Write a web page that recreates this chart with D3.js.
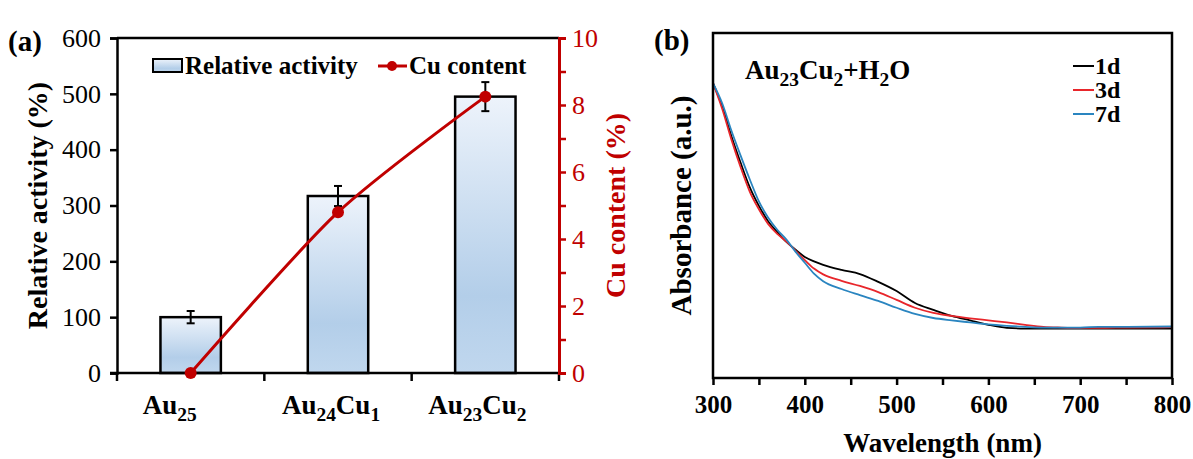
<!DOCTYPE html>
<html>
<head>
<meta charset="utf-8">
<script src="https://cdn.jsdelivr.net/npm/d3@7"></script>
<style>
  html,body{margin:0;padding:0;background:#fff;}
  svg{display:block;font-family:"Liberation Serif","Times New Roman",serif;}
</style>
</head>
<body>
<div id="chart"></div>
<script>
/* Panel (a): relative activity bars + Cu content line (dual axis).
   Panel (b): UV-vis spectra of Au23Cu2 in water after 1, 3, 7 days. */

// ---- panel (a) data ----
var categories = [
  [{t:"Au"},{t:"25",sub:true}],
  [{t:"Au"},{t:"24",sub:true},{t:"Cu"},{t:"1",sub:true}],
  [{t:"Au"},{t:"23",sub:true},{t:"Cu"},{t:"2",sub:true}]
];
var activity = [100, 317, 495];
var activityErr = [11, 18, 26];
var cuContent = [0, 4.8, 8.25];
var leftTicks = [0, 100, 200, 300, 400, 500, 600];
var rightTicks = [0, 2, 4, 6, 8, 10];

// ---- panel (b) data ----
var wavelength = [300,310,320,330,340,350,360,370,380,390,400,410,420,440,460,480,500,520,540,560,580,600,620,640,660,680,700,720,750,800];
var abs1d = [0.853,0.785,0.698,0.620,0.548,0.493,0.448,0.416,0.387,0.364,0.343,0.330,0.320,0.305,0.293,0.270,0.243,0.208,0.188,0.170,0.157,0.144,0.135,0.133,0.133,0.133,0.133,0.133,0.133,0.133];
var abs3d = [0.853,0.778,0.688,0.607,0.535,0.483,0.440,0.411,0.388,0.361,0.334,0.309,0.292,0.273,0.258,0.240,0.217,0.194,0.179,0.170,0.163,0.157,0.151,0.144,0.138,0.136,0.135,0.135,0.136,0.137];
var abs7d = [0.853,0.794,0.714,0.641,0.571,0.506,0.459,0.423,0.394,0.358,0.326,0.294,0.272,0.249,0.231,0.214,0.194,0.176,0.164,0.157,0.151,0.145,0.141,0.138,0.136,0.136,0.136,0.138,0.138,0.139];
var seriesNames = ["1d","3d","7d"];
var seriesColors = ["#000000","#e8262b","#2a85c0"];
var xTicksB = [300,400,500,600,700,800];

var W=1193,H=459;
var svg=d3.select("#chart").append("svg").attr("width",W).attr("height",H);
var defs=svg.append("defs");
var grad=defs.append("linearGradient").attr("id","barGrad").attr("x1",0).attr("y1",0).attr("x2",0).attr("y2",1);
grad.append("stop").attr("offset","0%").attr("stop-color","#edf3fb");
grad.append("stop").attr("offset","72%").attr("stop-color","#b3cee9");
grad.append("stop").attr("offset","100%").attr("stop-color","#c0d7ee");

var RED="#c00000";

function richText(sel, parts, size){
  parts.forEach(function(p,i){
    var prev=i>0?parts[i-1]:null;
    var ts=sel.append("tspan").text(p.t);
    if(p.sub){ ts.attr("font-size",size*0.72).attr("dy",size*0.25); }
    else if(prev && prev.sub){ ts.attr("dy",-size*0.25); }
  });
}

// ================= panel (a) =================
var aL=117,aR=559,aT=38,aB=373;
var xa=d3.scaleBand().domain(d3.range(categories.length)).range([aL,aR]).padding(0);
var ya=d3.scaleLinear().domain([0,600]).range([aB,aT]);
var yc=d3.scaleLinear().domain([0,10]).range([aB,aT]);
var barW=xa.bandwidth()*0.41;

var ga=svg.append("g");
ga.append("line").attr("x1",aL).attr("x2",aR).attr("y1",aT).attr("y2",aT).attr("stroke","#000").attr("stroke-width",2.5);

// bars
ga.selectAll("rect.bar").data(activity).enter().append("rect").attr("class","bar")
  .attr("x",function(d,i){return xa(i)+xa.bandwidth()/2-barW/2;})
  .attr("y",function(d){return ya(d);})
  .attr("width",barW).attr("height",function(d){return aB-ya(d);})
  .attr("fill","url(#barGrad)").attr("stroke","#000").attr("stroke-width",2.5);

// error bars
activity.forEach(function(v,i){
  var cx=xa(i)+xa.bandwidth()/2, e=activityErr[i];
  ga.append("line").attr("x1",cx).attr("x2",cx).attr("y1",ya(v-e)).attr("y2",ya(v+e)).attr("stroke","#000").attr("stroke-width",2);
  [v-e,v+e].forEach(function(y){
    ga.append("line").attr("x1",cx-4).attr("x2",cx+4).attr("y1",ya(y)).attr("y2",ya(y)).attr("stroke","#000").attr("stroke-width",2);
  });
});

// left axis
var axL=ga.append("g").attr("transform","translate("+aL+",0)")
  .call(d3.axisLeft(ya).tickValues(leftTicks).tickSize(7).tickPadding(9).tickFormat(d3.format("d")));
axL.select(".domain").attr("stroke","#000").attr("stroke-width",2.5);
axL.selectAll(".tick line").attr("stroke","#000").attr("stroke-width",2.5);
axL.selectAll("text").attr("font-size",26).attr("fill","#000").attr("font-family","Liberation Serif");

// bottom axis (category separators)
ga.append("line").attr("x1",aL-7).attr("x2",aR).attr("y1",aB).attr("y2",aB).attr("stroke","#000").attr("stroke-width",2.5);
d3.range(categories.length+1).forEach(function(i){
  var x=i<categories.length?xa(i):aR;
  ga.append("line").attr("x1",x).attr("x2",x).attr("y1",aB).attr("y2",aB+8).attr("stroke","#000").attr("stroke-width",2.5);
});
var labOff=[-21,-7,-8];
categories.forEach(function(c,i){
  var t=ga.append("text").attr("x",xa(i)+xa.bandwidth()/2+labOff[i]).attr("y",aB+41)
    .attr("text-anchor","middle").attr("font-size",27).attr("font-weight","bold");
  richText(t,c,27);
});

// right axis
var axR=ga.append("g").attr("transform","translate("+aR+",0)")
  .call(d3.axisRight(yc).ticks(10).tickSize(7).tickPadding(6).tickFormat(function(d){return rightTicks.indexOf(d)>=0?d:"";}));
axR.select(".domain").attr("stroke",RED).attr("stroke-width",3);
axR.selectAll(".tick line").attr("stroke",RED).attr("stroke-width",2.5);
axR.selectAll("text").attr("font-size",26).attr("fill",RED).attr("font-family","Liberation Serif");

// Cu line
var cuLine=d3.line().x(function(d,i){return xa(i)+xa.bandwidth()/2;}).y(function(d){return yc(d);}).curve(d3.curveCardinal.tension(0.2));
ga.append("path").datum(cuContent).attr("d",cuLine).attr("fill","none").attr("stroke",RED).attr("stroke-width",3);
ga.selectAll("circle.cu").data(cuContent).enter().append("circle").attr("class","cu")
  .attr("cx",function(d,i){return xa(i)+xa.bandwidth()/2;}).attr("cy",function(d){return yc(d);})
  .attr("r",6).attr("fill",RED);

// axis titles
ga.append("text").attr("transform","translate(47,"+((aT+aB)/2)+") rotate(-90)").attr("text-anchor","middle")
  .attr("font-size",28).attr("font-weight","bold").text("Relative activity (%)");
ga.append("text").attr("transform","translate(625,"+((aT+aB)/2)+") rotate(-90)").attr("text-anchor","middle")
  .attr("font-size",28).attr("font-weight","bold").attr("fill",RED).text("Cu content (%)");
ga.append("text").attr("x",8).attr("y",51).attr("font-size",29).attr("font-weight","bold").text("(a)");

// legend
var lg=ga.append("g");
lg.append("rect").attr("x",153).attr("y",59).attr("width",29).attr("height",13).attr("fill","url(#barGrad)").attr("stroke","#000").attr("stroke-width",2);
lg.append("text").attr("x",185).attr("y",74).attr("font-size",25).attr("font-weight","bold").text("Relative activity");
lg.append("line").attr("x1",378).attr("x2",407).attr("y1",66).attr("y2",66).attr("stroke",RED).attr("stroke-width",3);
lg.append("circle").attr("cx",392).attr("cy",66).attr("r",5).attr("fill",RED);
lg.append("text").attr("x",409).attr("y",74).attr("font-size",25).attr("font-weight","bold").text("Cu content");

// ================= panel (b) =================
var bL=713,bR=1172,bT=33,bB=378;
var xb=d3.scaleLinear().domain([300,800]).range([bL,bR]);
var yb=d3.scaleLinear().domain([-0.012,1]).range([bB,bT]);
var gb=svg.append("g");

var specs=[abs1d,abs3d,abs7d];
var specLine=d3.line().x(function(d){return xb(d[0]);}).y(function(d){return yb(d[1]);}).curve(d3.curveMonotoneX);
[0,1,2].forEach(function(k){
  var pts=wavelength.map(function(w,i){return [w,specs[k][i]];});
  gb.append("path").datum(pts).attr("d",specLine).attr("fill","none").attr("stroke",seriesColors[k]).attr("stroke-width",1.8);
});

gb.append("rect").attr("x",bL).attr("y",bT).attr("width",bR-bL).attr("height",bB-bT).attr("fill","none").attr("stroke","#000").attr("stroke-width",2.5);
var axB=gb.append("g").attr("transform","translate(0,"+bB+")")
  .call(d3.axisBottom(xb).tickValues(d3.range(300,801,50)).tickSize(7).tickPadding(10).tickFormat(function(d){return xTicksB.indexOf(d)>=0?d:"";}));
axB.select(".domain").remove();
axB.selectAll(".tick line").attr("stroke","#000").attr("stroke-width",2.5);
axB.selectAll("text").attr("font-size",25).attr("font-weight","bold").attr("fill","#000").attr("font-family","Liberation Serif");

gb.append("text").attr("x",(bL+bR)/2).attr("y",452).attr("text-anchor","middle").attr("font-size",27).attr("font-weight","bold").text("Wavelength (nm)");
gb.append("text").attr("transform","translate(691,"+((bT+bB)/2)+") rotate(-90)").attr("text-anchor","middle")
  .attr("font-size",29).attr("font-weight","bold").text("Absorbance (a.u.)");
gb.append("text").attr("x",654).attr("y",50).attr("font-size",29).attr("font-weight","bold").text("(b)");

var tag=gb.append("text").attr("x",745).attr("y",79).attr("font-size",27).attr("font-weight","bold");
richText(tag,[{t:"Au"},{t:"23",sub:true},{t:"Cu"},{t:"2",sub:true},{t:"+H"},{t:"2",sub:true},{t:"O"}],27);

seriesNames.forEach(function(n,i){
  var y=66+i*24;
  gb.append("line").attr("x1",1073).attr("x2",1094).attr("y1",y).attr("y2",y).attr("stroke",seriesColors[i]).attr("stroke-width",2);
  gb.append("text").attr("x",1095).attr("y",y+8).attr("font-size",24).attr("font-weight","bold").text(n);
});
</script>
</body>
</html>
